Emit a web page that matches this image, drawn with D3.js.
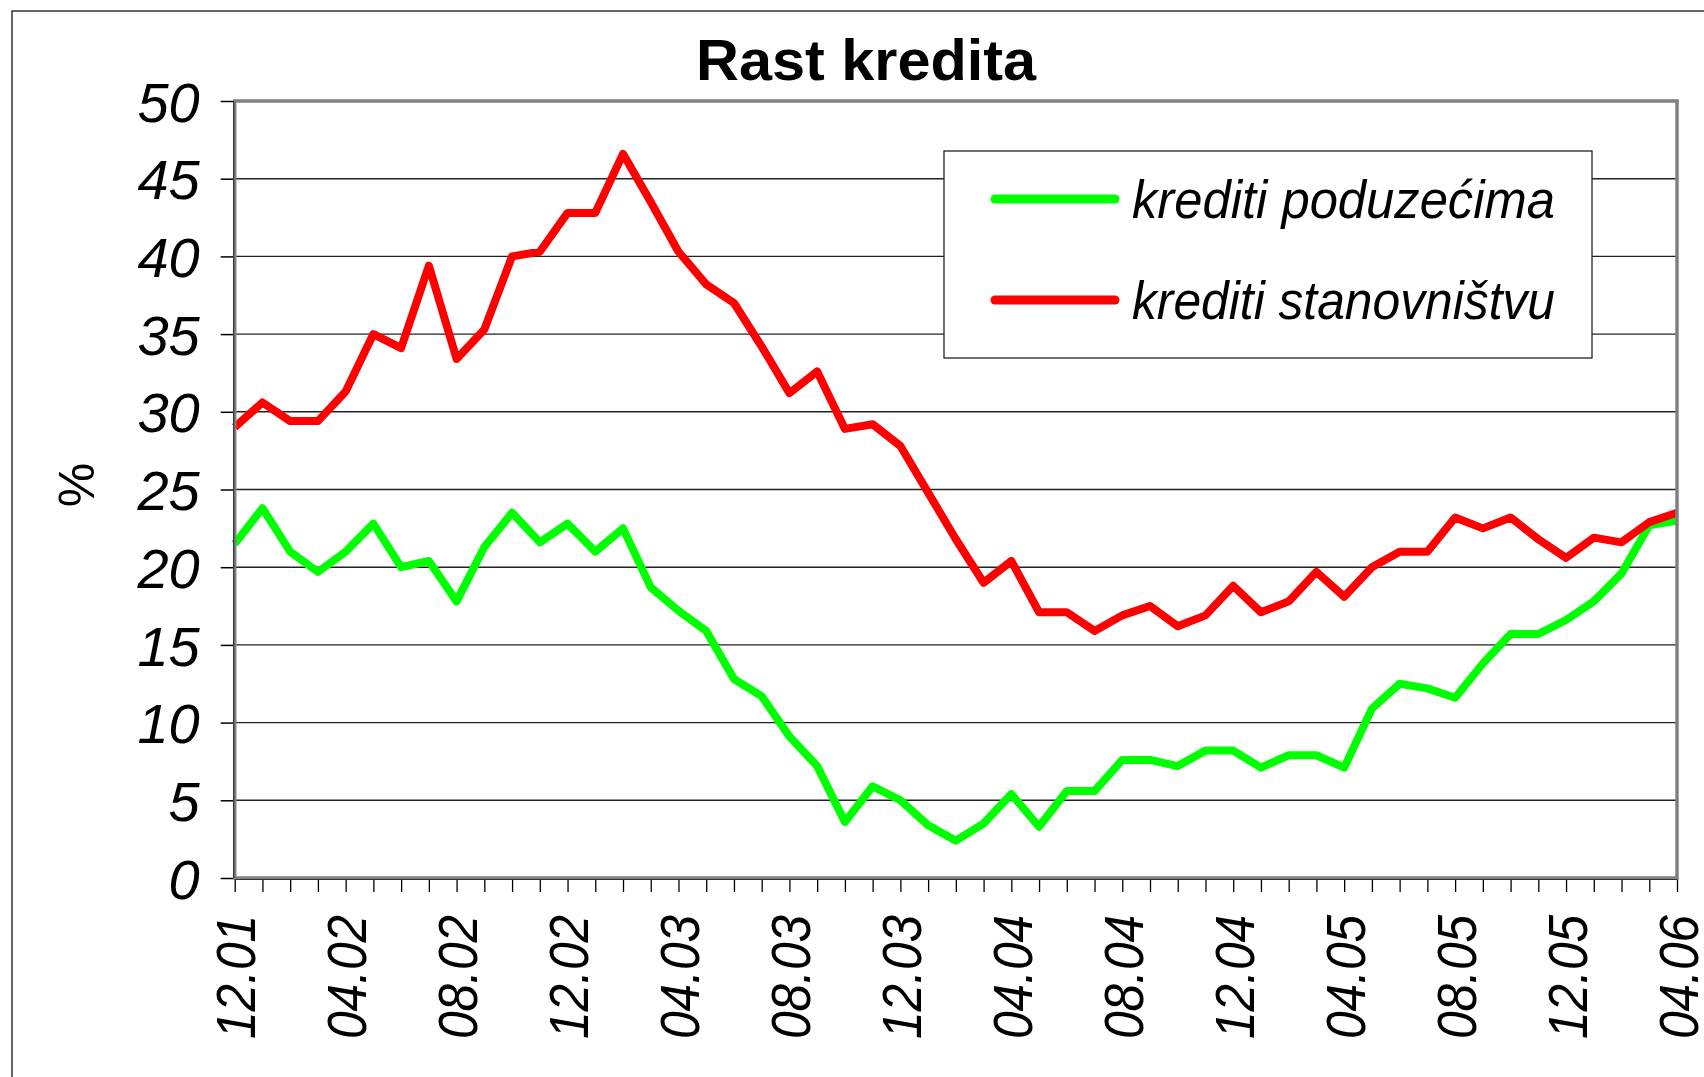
<!DOCTYPE html>
<html>
<head>
<meta charset="utf-8">
<script src="https://cdn.jsdelivr.net/npm/d3@7"></script>
<style>
	html, body { margin: 0; padding: 0; background: #fff; }
	svg { display: block; font-family: 'Liberation Sans', Arial, sans-serif; }
	.tick-label { font-style: italic; fill: #000; }
</style>
</head>
<body>
<svg id="chart-svg" width="1704" height="1077"></svg>
<script>
// months Dec 2001 .. Apr 2006
const MONTHS = [
	'12.01',
	'01.02', '02.02', '03.02', '04.02', '05.02', '06.02', '07.02', '08.02', '09.02', '10.02', '11.02', '12.02',
	'01.03', '02.03', '03.03', '04.03', '05.03', '06.03', '07.03', '08.03', '09.03', '10.03', '11.03', '12.03',
	'01.04', '02.04', '03.04', '04.04', '05.04', '06.04', '07.04', '08.04', '09.04', '10.04', '11.04', '12.04',
	'01.05', '02.05', '03.05', '04.05', '05.05', '06.05', '07.05', '08.05', '09.05', '10.05', '11.05', '12.05',
	'01.06', '02.06', '03.06', '04.06'
];
const X_TICK_LABELS = [ '12.01', '04.02', '08.02', '12.02', '04.03', '08.03', '12.03', '04.04', '08.04', '12.04', '04.05', '08.05', '12.05', '04.06' ];
const Y_TICKS = [ 0, 5, 10, 15, 20, 25, 30, 35, 40, 45, 50 ];

const SERIES_NAMES = [ 'krediti poduzećima', 'krediti stanovništvu' ];
const SERIES_COLORS = [ '#00ff00', '#ff0000' ];

const PODUZECA = [
	21.5, 23.8, 21.0, 19.7, 21.0, 22.8, 20.0, 20.4, 17.8, 21.3, 23.5, 21.6, 22.8,
	21.0, 22.5, 18.7, 17.2, 15.9, 12.8, 11.7, 9.1, 7.2, 3.6, 5.9, 5.0,
	3.4, 2.4, 3.5, 5.4, 3.3, 5.6, 5.6, 7.6, 7.6, 7.2, 8.2, 8.2,
	7.1, 7.9, 7.9, 7.1, 10.9, 12.5, 12.2, 11.6, 13.8, 15.7, 15.7, 16.6,
	17.8, 19.6, 22.7, 23.0
];
const STANOVNISTVO = [
	29.0, 30.6, 29.4, 29.4, 31.3, 35.0, 34.1, 39.4, 33.4, 35.3, 40.0, 40.3, 42.8,
	42.8, 46.6, 43.5, 40.3, 38.2, 37.0, 34.2, 31.2, 32.6, 28.9, 29.2, 27.8,
	24.8, 21.8, 19.0, 20.4, 17.1, 17.1, 15.9, 16.9, 17.5, 16.2, 16.9, 18.8,
	17.1, 17.8, 19.7, 18.1, 20.0, 21.0, 21.0, 23.2, 22.5, 23.2, 21.8, 20.6,
	21.9, 21.6, 22.9, 23.5
];

const PLOT = { left: 234.7, right: 1677, top: 101, bottom: 878 };

const svg = d3.select('#chart-svg');

// outer frame
svg.append('rect').attr('x', 12).attr('y', 11).attr('width', 1710).attr('height', 1090)
	.attr('fill', '#fff').attr('stroke', '#333').attr('stroke-width', 1.5);

const xScale = d3.scalePoint().domain(MONTHS).range([ PLOT.left, PLOT.right ]);
const yScale = d3.scaleLinear().domain([ 0, 50 ]).range([ PLOT.bottom, PLOT.top ]);

// gridlines
svg.append('g').attr('id', 'grid')
	.selectAll('line')
	.data(Y_TICKS.filter((v) => v > 0 && v < 50))
	.enter()
	.append('line')
	.attr('x1', PLOT.left).attr('x2', PLOT.right)
	.attr('y1', (d) => yScale(d)).attr('y2', (d) => yScale(d))
	.attr('stroke', '#222').attr('stroke-width', 1.4);

// y axis
const yAxis = d3.axisLeft(yScale).tickValues(Y_TICKS).tickSize(14).tickPadding(21).tickFormat(d3.format('d'));
const yAxisG = svg.append('g').attr('id', 'y-axis').attr('transform', 'translate(' + PLOT.left + ', 0)').call(yAxis);
yAxisG.select('.domain').remove();
yAxisG.selectAll('line').attr('stroke', '#000').attr('stroke-width', 1.5);
yAxisG.selectAll('text').attr('class', 'tick-label').attr('font-size', 56).attr('dy', '0.36em');

// x axis
const xAxis = d3.axisBottom(xScale).tickSize(14).tickFormat((d) => (X_TICK_LABELS.includes(d) ? d : ''));
const xAxisG = svg.append('g').attr('id', 'x-axis').attr('transform', 'translate(0, ' + PLOT.bottom + ')').call(xAxis);
xAxisG.select('.domain').remove();
xAxisG.selectAll('line').attr('stroke', '#000').attr('stroke-width', 1.3);
xAxisG.selectAll('text')
	.attr('class', 'tick-label')
	.attr('font-size', 56)
	.attr('transform', 'rotate(-90)')
	.attr('text-anchor', 'end')
	.attr('x', -37)
	.attr('y', 0)
	.attr('dy', '0.36em')
	.each(function(d) {
		if (X_TICK_LABELS.includes(d)) d3.select(this).attr('textLength', 124).attr('lengthAdjust', 'spacingAndGlyphs');
	});

// series lines
const line = d3.line().x((d, i) => xScale(MONTHS[i])).y((d) => yScale(d));
[ PODUZECA, STANOVNISTVO ].forEach((values, k) => {
	svg.append('path')
		.datum(values)
		.attr('d', line)
		.attr('fill', 'none')
		.attr('stroke', SERIES_COLORS[k])
		.attr('stroke-width', 8)
		.attr('stroke-linejoin', 'round');
});

// plot frame
svg.append('rect')
	.attr('x', PLOT.left).attr('y', PLOT.top)
	.attr('width', PLOT.right - PLOT.left).attr('height', PLOT.bottom - PLOT.top)
	.attr('fill', 'none').attr('stroke', '#808080').attr('stroke-width', 3.5);
svg.append('line').attr('x1', PLOT.left - 1).attr('x2', PLOT.left - 1).attr('y1', PLOT.top).attr('y2', PLOT.bottom)
	.attr('stroke', '#333').attr('stroke-width', 1.2);
svg.append('line').attr('x1', PLOT.left).attr('x2', PLOT.right).attr('y1', PLOT.bottom + 1.5).attr('y2', PLOT.bottom + 1.5)
	.attr('stroke', '#333').attr('stroke-width', 1.2);

// legend
const legendG = svg.append('g').attr('id', 'legend').attr('transform', 'translate(944, 151)');
legendG.append('rect').attr('width', 648).attr('height', 207).attr('fill', '#fff').attr('stroke', '#222').attr('stroke-width', 1.3);
SERIES_NAMES.forEach((name, k) => {
	const cy = 48 + k * 101;
	legendG.append('line')
		.attr('x1', 51).attr('x2', 171).attr('y1', cy).attr('y2', cy)
		.attr('stroke', SERIES_COLORS[k]).attr('stroke-width', 9).attr('stroke-linecap', 'round');
	legendG.append('text')
		.attr('x', 188).attr('y', cy + 19)
		.attr('font-size', 54).attr('font-style', 'italic')
		.attr('textLength', 423).attr('lengthAdjust', 'spacingAndGlyphs')
		.text(name);
});

// title
svg.append('text').attr('x', 866).attr('y', 80).attr('text-anchor', 'middle')
	.attr('font-size', 58).attr('font-weight', 'bold')
	.attr('textLength', 340).attr('lengthAdjust', 'spacingAndGlyphs')
	.text('Rast kredita');

// y axis label
svg.append('text').attr('transform', 'translate(76, 485) rotate(-90)').attr('text-anchor', 'middle')
	.attr('dy', '0.35em').attr('font-size', 50).text('%');
</script>
</body>
</html>
